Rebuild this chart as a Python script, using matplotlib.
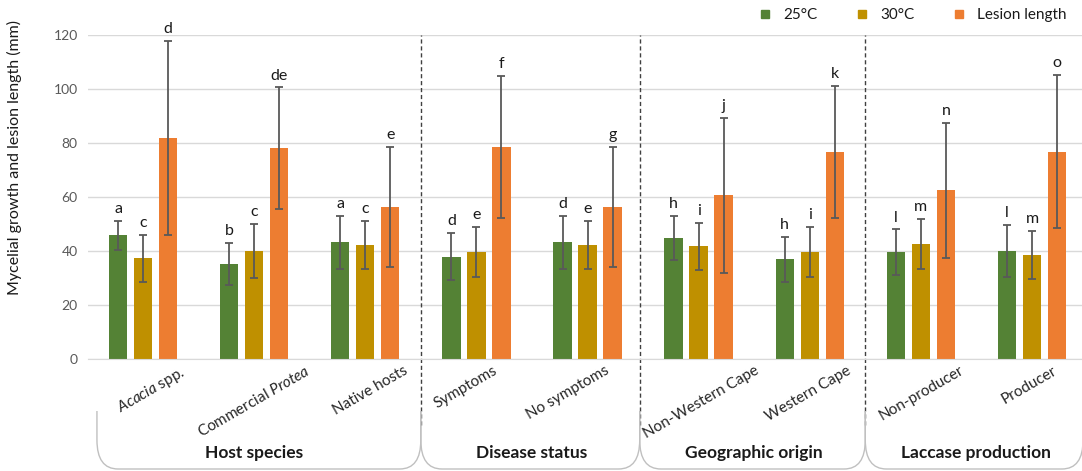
import numpy as np
import matplotlib
matplotlib.use("Agg")
import matplotlib.pyplot as plt
from matplotlib.path import Path
from matplotlib.patches import PathPatch
from matplotlib.lines import Line2D
import matplotlib.transforms as mtransforms

plt.rcParams["font.family"] = ["Lato", "DejaVu Sans"]
plt.rcParams["mathtext.fontset"] = "custom"
plt.rcParams["mathtext.it"] = "Lato:italic"
plt.rcParams["mathtext.rm"] = "Lato"

# ---- data -------------------------------------------------------------
categories = [r"$\mathit{Acacia}$ spp.", r"Commercial $\mathit{Protea}$", "Native hosts",
              "Symptoms", "No symptoms",
              "Non-Western Cape", "Western Cape",
              "Non-producer", "Producer"]
groups = ["Host species", "Disease status", "Geographic origin", "Laccase production"]
series_names = ["25°C", "30°C", "Lesion length"]

growth_25 = [45.9, 35.3, 43.3, 38.0, 43.3, 44.9, 37.0, 39.7, 40.1]
err_25 = [5.3, 7.9, 9.7, 8.8, 9.7, 8.3, 8.4, 8.4, 9.7]
letters_25 = ["a", "b", "a", "d", "d", "h", "h", "l", "l"]

growth_30 = [37.4, 40.1, 42.3, 39.7, 42.3, 41.8, 39.7, 42.7, 38.6]
err_30 = [8.6, 10.0, 9.0, 9.2, 9.0, 8.8, 9.2, 9.2, 9.0]
letters_30 = ["c", "c", "c", "e", "e", "i", "i", "m", "m"]

lesion = [81.9, 78.1, 56.4, 78.6, 56.4, 60.7, 76.9, 62.6, 76.9]
err_lesion = [36.0, 22.6, 22.2, 26.3, 22.2, 28.7, 24.4, 25.0, 28.4]
letters_lesion = ["d", "de", "e", "f", "g", "j", "k", "n", "o"]

yticks = [0, 20, 40, 60, 80, 100, 120]

# ---- styling ----------------------------------------------------------
colors = ["#548235", "#BF9000", "#ED7D31"]
err_color = "#595959"
grid_color = "#d9d9d9"

W, H = 1082, 471
fig = plt.figure(figsize=(W / 100, H / 100), dpi=100)
ax = fig.add_axes([87.5 / W, (H - 359.3) / H, 1000 / W, 324 / H])

x = np.arange(len(categories))
offsets = [-0.225, 0.0, 0.225]
bar_w = 0.165

series = [(growth_25, err_25, letters_25),
          (growth_30, err_30, letters_30),
          (lesion, err_lesion, letters_lesion)]

for (vals, errs, lets), off, col in zip(series, offsets, colors):
    xs = x + off
    ax.bar(xs, vals, width=bar_w, color=col, zorder=2)
    ax.errorbar(xs, vals, yerr=errs, fmt="none", ecolor=err_color,
                elinewidth=1.3, capsize=3, capthick=1.3, zorder=3)
    for xi, v, e, t in zip(xs, vals, errs, lets):
        ax.annotate(t, (xi, v + e), xytext=(0, 3.5), textcoords="offset points",
                    ha="center", va="bottom", fontsize=11.5, color="#1a1a1a",
                    annotation_clip=False)

ax.set_xlim(-0.5, len(categories) - 0.5)
ax.set_ylim(0, 120)
ax.set_yticks(yticks)
ax.yaxis.grid(True, color=grid_color, lw=1)
ax.set_axisbelow(True)
for s in ["top", "right", "left"]:
    ax.spines[s].set_visible(False)
ax.spines["bottom"].set_color(grid_color)
ax.tick_params(axis="both", length=0)
ax.tick_params(axis="y", labelsize=10, labelcolor="#595959", pad=7)

ax.set_xticks(x)
ax.set_xticklabels(categories, rotation=30, ha="center", va="top",
                   fontsize=11, color="#262626")
ax.tick_params(axis="x", pad=3)

# small horizontal nudges (pixels) for the slanted category labels
label_shift_px = [8, 0, 5, -11, -20, 3, -2, 1, -3]
for lab, dx in zip(ax.get_xticklabels(), label_shift_px):
    lab.set_transform(lab.get_transform() +
                      mtransforms.ScaledTranslation(dx / 100, 0, fig.dpi_scale_trans))

ax.set_ylabel("Mycelial growth and lesion length (mm)", fontsize=11.5, color="#1a1a1a")
ax.yaxis.set_label_coords(-0.0655, 0.624)

# dashed separators between the grouping factors
for b in [2.5, 4.47, 6.5]:
    ax.axvline(b, ymin=-0.203, ymax=1.0, color="#404040", lw=1,
               ls=(0, (3, 2)), clip_on=False, zorder=1)

# bracket outlines and group titles below the category labels
bt = mtransforms.blended_transform_factory(ax.transData, fig.transFigure)
top_y = 1 - 411 / H
mid_y = 1 - 440 / H
bot_y = 1 - 469 / H
r = 0.19
bounds = [(-0.415, 2.5), (2.5, 4.47), (4.47, 6.5), (6.5, 8.46)]
centers = [1.0, 3.5, 5.5, 7.5]
for (xl, xr), cx, name in zip(bounds, centers, groups):
    verts = [(xl, top_y), (xl, mid_y), (xl, bot_y), (xl + r, bot_y),
             (xr - r, bot_y), (xr, bot_y), (xr, mid_y), (xr, top_y)]
    codes = [Path.MOVETO, Path.LINETO, Path.CURVE3, Path.CURVE3,
             Path.LINETO, Path.CURVE3, Path.CURVE3, Path.LINETO]
    fig.patches.append(PathPatch(Path(verts, codes), transform=bt, fill=False,
                                 edgecolor="#c0c0c0", lw=1))
    fig.text(cx, 1 - 453 / H, name, transform=bt, ha="center", va="center",
             fontsize=12.5, fontweight="bold", color="#1a1a1a")

handles = [Line2D([], [], marker="s", ls="", color=c, markersize=6) for c in colors]
fig.legend(handles, series_names, loc="center right",
           bbox_to_anchor=(1074 / W, 1 - 15 / H), ncol=3, frameon=False,
           fontsize=11, handlelength=0.8, handletextpad=0.8,
           columnspacing=2.5, borderpad=0, labelcolor="#1a1a1a")

fig.savefig("out.png", dpi=100)
